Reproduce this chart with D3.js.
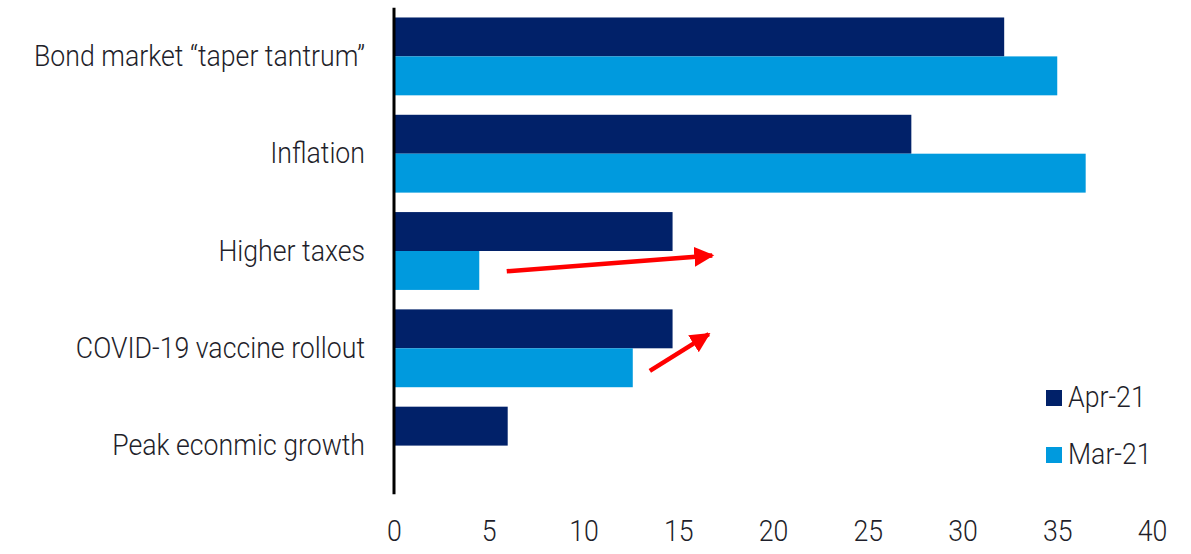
<!DOCTYPE html>
<html>
<head>
<meta charset="utf-8">
<script src="https://cdn.jsdelivr.net/npm/d3@7"></script>
<style>
  html, body { margin: 0; padding: 0; background: #fff; }
  svg text { font-family: Roboto, "DejaVu Sans", sans-serif; font-weight: 300; fill: #1f1f2b; }
</style>
</head>
<body>
<svg id="chart" width="1191" height="554"></svg>
<script>
// ---- data ----
const categories = ["Bond market \u201ctaper tantrum\u201d", "Inflation", "Higher taxes", "COVID-19 vaccine rollout", "Peak econmic growth"];
const seriesNames = ["Apr-21", "Mar-21"];
const apr21 = [32.2, 27.3, 14.7, 14.7, 6.0];
const mar21 = [35.0, 36.5, 4.5, 12.6, 0];
const xTicks = [0, 5, 10, 15, 20, 25, 30, 35, 40];
// annotation arrows: category, from value, from position in band, to value, to position in band
const arrowCategory = ["Higher taxes", "COVID-19 vaccine rollout"];
const arrowFromX = [5.95, 13.5];
const arrowFromBand = [0.76, 0.79];
const arrowToX = [16.9, 16.7];
const arrowToBand = [0.555, 0.305];

const colors = ["#012169", "#009ade"];
const condense = 0.89;
const fs = 30;

const svg = d3.select("#chart");
const x0 = 394, x1 = 1152, yTop = 7.75, yBot = 494.25;

const x = d3.scaleLinear().domain([0, 40]).range([x0, x1]);
const y = d3.scaleBand().domain(categories).range([yTop, yBot]).paddingInner(0.2).paddingOuter(0.1);
const ys = d3.scaleBand().domain(seriesNames).range([0, y.bandwidth()]).padding(0);

const rows = categories.map((c, i) => ({ cat: c, vals: [apr21[i], mar21[i]] }));

// bars
const g = svg.append("g");
rows.forEach(r => {
  r.vals.forEach((v, j) => {
    if (v <= 0) return;
    g.append("rect")
      .attr("x", x(0))
      .attr("y", y(r.cat) + ys(seriesNames[j]))
      .attr("width", x(v) - x(0))
      .attr("height", ys.bandwidth())
      .attr("fill", colors[j]);
  });
});

// vertical axis line
svg.append("line")
  .attr("x1", x(0)).attr("x2", x(0))
  .attr("y1", yTop).attr("y2", yBot)
  .attr("stroke", "#000").attr("stroke-width", 3);

// category labels
const catAxis = d3.axisLeft(y).tickSize(0).tickPadding(0);
const ca = svg.append("g").attr("transform", `translate(${x(0)},0)`).call(catAxis);
ca.select(".domain").remove();
ca.selectAll("text")
  .attr("font-size", fs).attr("font-family", null).attr("fill", "#1f1f2b")
  .attr("x", 0)
  .attr("transform", `translate(-29,0) scale(${condense},1)`);

// x tick labels
const xAxis = d3.axisBottom(x).tickValues(xTicks).tickSize(0).tickPadding(0).tickFormat(d3.format("d"));
const xa = svg.append("g").attr("transform", `translate(0,${yBot + 25})`).call(xAxis);
xa.select(".domain").remove();
xa.selectAll("text").attr("font-size", fs).attr("font-family", null).attr("fill", "#1f1f2b")
  .attr("transform", `scale(${condense},1)`);

// arrows
const defs = svg.append("defs");
defs.append("marker")
  .attr("id", "ah").attr("markerUnits", "userSpaceOnUse")
  .attr("markerWidth", 22).attr("markerHeight", 22)
  .attr("refX", 18).attr("refY", 10).attr("orient", "auto")
  .append("path").attr("d", "M0,0 L20,10 L0,20 Z").attr("fill", "#ff0000");

arrowCategory.forEach((c, i) => {
  const bx = y(c), bw = y.bandwidth();
  const xa0 = x(arrowFromX[i]), ya0 = bx + arrowFromBand[i] * bw;
  const xa1 = x(arrowToX[i]), ya1 = bx + arrowToBand[i] * bw;
  const ang = Math.atan2(ya1 - ya0, xa1 - xa0);
  const lx = xa1 - 2 * Math.cos(ang), ly = ya1 - 2 * Math.sin(ang);
  svg.append("line")
    .attr("x1", xa0).attr("y1", ya0).attr("x2", lx).attr("y2", ly)
    .attr("stroke", "#ff0000").attr("stroke-width", 4.5)
    .attr("marker-end", "url(#ah)");
});

// legend
const legend = svg.append("g").attr("transform", "translate(1046,390)");
seriesNames.forEach((s, i) => {
  const lg = legend.append("g").attr("transform", `translate(0,${i * 57})`);
  lg.append("rect").attr("width", 16).attr("height", 16).attr("fill", colors[i]);
  lg.append("text").attr("transform", `translate(22,17) scale(${condense},1)`).attr("font-size", fs).text(s);
});
</script>
</body>
</html>
